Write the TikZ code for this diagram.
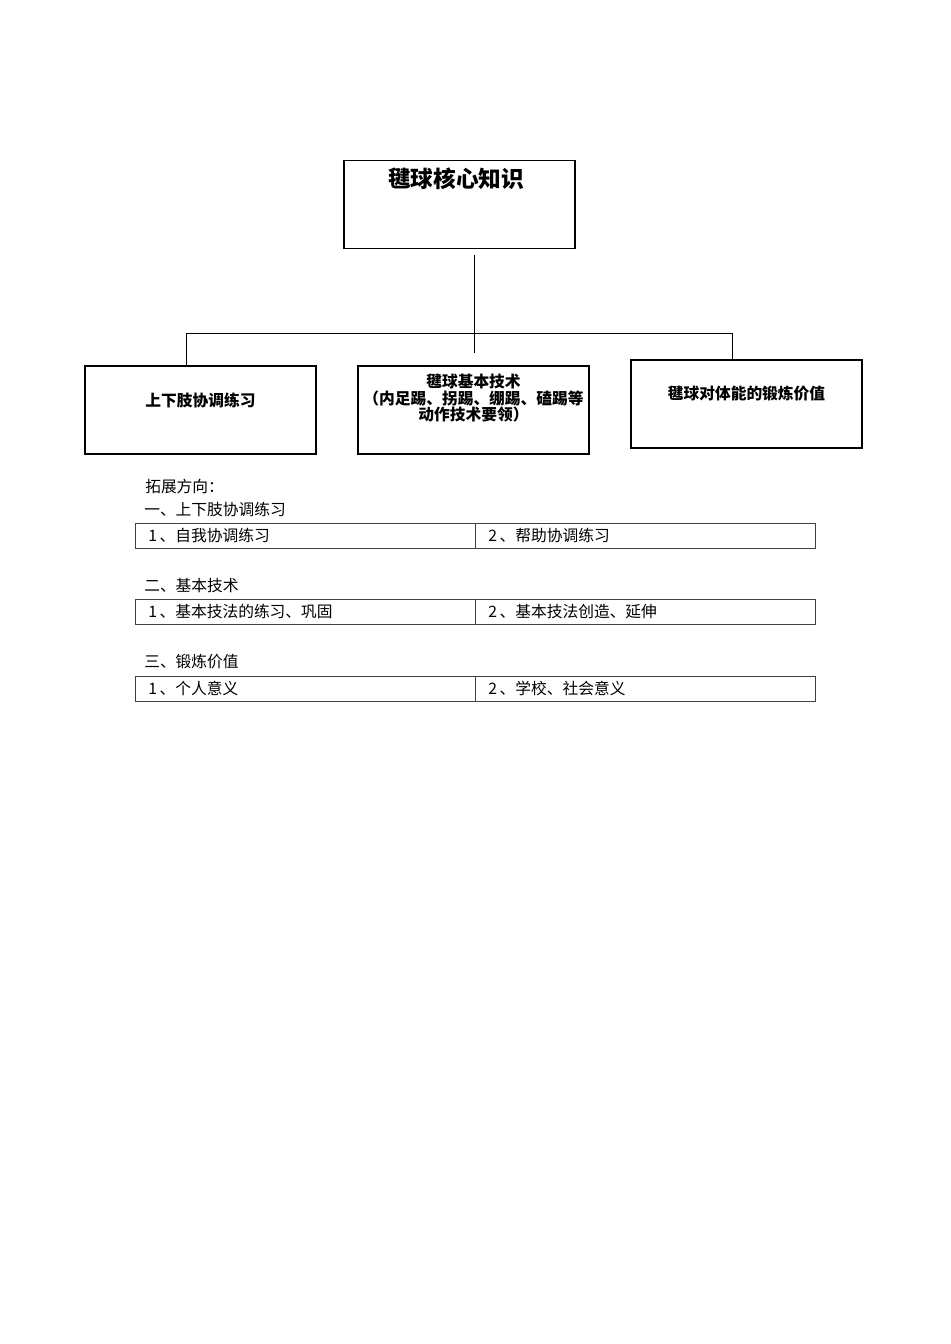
\documentclass[tikz,border=0pt]{standalone}
\usepackage{fontspec}
\newfontfamily\cjk{Noto Sans CJK SC}
\begin{document}
\begin{tikzpicture}[x=0.75pt,y=-0.75pt,
  box/.style={draw=black,line width=0.95pt,inner sep=0pt,minimum width=231*0.75pt,minimum height=88*0.75pt},
  boxtxt/.style={font=\cjk\bfseries\fontsize{11.8}{12.4}\selectfont,align=center,inner sep=0pt},
  titletxt/.style={font=\cjk\bfseries\fontsize{17}{19}\selectfont,inner sep=0pt},
  plain/.style={font=\cjk\fontsize{11.8}{13}\selectfont,anchor=west,inner sep=0pt},
  cell/.style={draw=black!75,line width=0.7pt,inner sep=0pt,minimum width=340*0.75pt,minimum height=25*0.75pt},
  conn/.style={draw=black,line width=0.65pt}]
\path[use as bounding box] (0,0) rectangle (950,1344);
% top
\node[box] (top) at (459.5,204.5) {};
\node[titletxt] (toptxt) at (456,179) {毽球核心知识};
% children
\node[box] (left) at (200.5,410) {};
\node[boxtxt] (lefttxt) at (200.5,400) {上下肢协调练习};
\node[box] (mid) at (473.5,410) {};
\node[boxtxt] (midtxt) at (473.5,398) {毽球基本技术\\（内足踢、拐踢、绷踢、磕踢等\\动作技术要领）};
\node[box] (right) at (746.5,404) {};
\node[boxtxt] (righttxt) at (746.5,393) {毽球对体能的锻炼价值};
% connectors
\coordinate (ts) at (474,255);
\coordinate (te) at (474,353);
\coordinate (hl) at (186,333);
\coordinate (hr) at (732,333);
\draw[conn] (ts) -- (te);
\draw[conn] (hl) -- (hr);
\draw[conn] (hl) -- (hl |- left.north);
\draw[conn] (hr) -- (hr |- right.north);
% expansion
\node[plain] (ext) at (145,486) {拓展方向：};
\node[plain] (h1) at (144,509) {一、上下肢协调练习};
\node[cell] (c11) at (305,535.5) {};
\node[cell] (c12) at (645,535.5) {};
\node[plain] (t11) at (148,535.5) {1\,、自我协调练习};
\node[plain] (t12) at (488,535.5) {2\,、帮助协调练习};
\node[plain] (h2) at (144,586) {二、基本技术};
\node[cell] (c21) at (305,611.5) {};
\node[cell] (c22) at (645,611.5) {};
\node[plain] (t21) at (148,611.5) {1\,、基本技法的练习、巩固};
\node[plain] (t22) at (488,611.5) {2\,、基本技法创造、延伸};
\node[plain] (h3) at (144,662) {三、锻炼价值};
\node[cell] (c31) at (305,688.5) {};
\node[cell] (c32) at (645,688.5) {};
\node[plain] (t31) at (148,688.5) {1\,、个人意义};
\node[plain] (t32) at (488,688.5) {2\,、学校、社会意义};
\end{tikzpicture}
\end{document}
